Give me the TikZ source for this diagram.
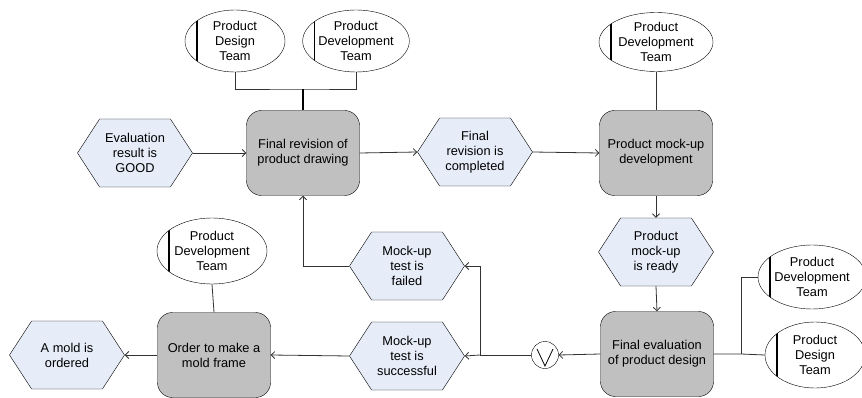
\documentclass[tikz,border=0pt]{standalone}
\usepackage{fontspec}
\setmainfont{Liberation Sans}
\usetikzlibrary{shapes.geometric,shapes.symbols,arrows.meta}
\definecolor{boxgray}{HTML}{C0C0C0}
\definecolor{evblue}{HTML}{E6ECF8}
\definecolor{linegray}{HTML}{333333}
\newcommand{\dfont}{\fontsize{12.8pt}{15pt}\selectfont}
\begin{document}
\begin{tikzpicture}[x=1pt,y=-1pt,
  func/.style={draw=black, rounded corners=15pt, fill=boxgray, minimum width=113pt, minimum height=85pt, align=center, font=\dfont, inner sep=2pt},
  event/.style={signal, signal to=east and west, signal pointer angle=114, draw=black, fill=evblue, minimum width=115pt, minimum height=68pt, align=center, font=\dfont, inner sep=1pt},
  org/.style={ellipse, draw=black, fill=white, align=center, font=\dfont, inner sep=0pt,
    path picture={\draw[line width=1.3pt] ([xshift=12pt]path picture bounding box.south west) -- ([xshift=12pt]path picture bounding box.north west);}},
  conn/.style={draw=linegray, line width=0.8pt},
  arr/.style={conn, -{Straight Barb[length=3.5pt,width=7pt]}},
  xorc/.style={circle, draw=black, fill=white, minimum size=27pt, inner sep=0pt,
    path picture={\draw[line width=0.8pt] ([shift={(-8pt,6pt)}]path picture bounding box.center) -- ([shift={(0pt,-11pt)}]path picture bounding box.center) -- ([shift={(8pt,6pt)}]path picture bounding box.center);}}
]
\useasboundingbox (0,0) rectangle (862,398);

% organisational units
\node[org, minimum width=100pt, minimum height=62pt] (pdt1) at (235,41) {Product\\Design\\Team};
\node[org, minimum width=106pt, minimum height=62pt] (pdv1) at (356,41) {Product\\Development\\Team};
\node[org, minimum width=114pt, minimum height=59pt] (pdv2) at (656,42) {Product\\Development\\Team};
\node[org, minimum width=110pt, minimum height=66pt] (pdv3) at (212,251) {Product\\Development\\Team};
\node[org, minimum width=108pt, minimum height=64pt] (pdv4) at (812,277) {Product\\Development\\Team};
\node[org, minimum width=100pt, minimum height=66pt] (pdt2) at (815,355) {Product\\Design\\Team};

% functions
\node[func] (fr) at (303,153) {Final revision of\\product drawing};
\node[func] (pm) at (656,153) {Product mock-up\\development};
\node[func] (fe) at (657,354) {Final evaluation\\of product design};
\node[func] (ord) at (214,355) {Order to make a\\mold frame};

% events
\node[event] (eg) at (135,153) {Evaluation\\result is\\GOOD};
\node[event] (frc) at (475,152) {Final\\revision is\\completed};
\node[event] (rdy) at (656,252) {Product\\mock-up\\is ready};
\node[event] (fail) at (407,266) {Mock-up\\test is\\failed};
\node[event] (succ) at (407,356) {Mock-up\\test is\\successful};
\node[event] (mold) at (67,355) {A mold is\\ordered};

% XOR connector
\node[xorc] (xor) at (545,355) {};

% joints
\coordinate (jtop) at (303,89);
\coordinate (jsplit) at (480,355);
\coordinate (jright) at (741,354);

% connectors
\draw[conn] (pdt1.south) |- (jtop) -| (pdv1.south);
\draw[draw=black, line width=1.6pt] (jtop) -- (fr.north);
\draw[arr] (eg.east) -- (fr.west);
\draw[arr] (fr.east) -- (frc.west);
\draw[arr] (frc.east) -- (pm.west);
\draw[conn] (pdv2.south) -- (pm.north);
\draw[arr] (pm.south) -- (rdy.north);
\draw[arr] (rdy.south) -- (fe.north);
\draw[arr] (fe.west) -- (xor.east);
\draw[conn] (xor.west) -- (jsplit);
\draw[arr] (jsplit) -- (succ.east);
\draw[arr] (jsplit) |- (fail.east);
\draw[arr] (fail.west) -| (fr.south);
\draw[arr] (succ.west) -- (ord.east);
\draw[arr] (ord.west) -- (mold.east);
\draw[conn] (pdv3.south) -- (ord.north);
\draw[conn] (fe.east) -- (jright) -- (pdt2.west);
\draw[conn] (jright) |- (pdv4.west);
\end{tikzpicture}
\end{document}
